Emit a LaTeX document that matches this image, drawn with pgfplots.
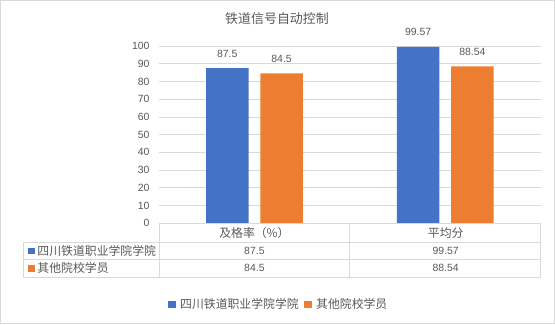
\documentclass[border=0pt]{standalone}
\usepackage{pgfplots}
\pgfplotsset{compat=1.18}
\usepackage{pgfplotstable}
\usepackage{fontspec}
\setmainfont{Liberation Sans}
\newfontfamily\cjk{Noto Sans CJK SC}
\definecolor{sblue}{HTML}{4472C4}
\definecolor{sorange}{HTML}{ED7D31}
\definecolor{txtgray}{HTML}{595959}
\definecolor{gridgray}{HTML}{D9D9D9}
\pgfplotstableread{
x A B
0 87.5 84.5
1 99.57 88.54
}\data
\begin{document}
\begin{tikzpicture}[x=1bp,y=1bp]
\useasboundingbox (0,0) rectangle (555,324);
\fill[white] (0,0) rectangle (555,324);
\draw[gridgray, line width=0.9bp] (0.7,0.7) rectangle (554,323.3);
% title
\node[text=txtgray, font=\cjk\fontsize{13}{15}\selectfont, inner sep=0] at (277,305.7) {铁道信号自动控制};
\begin{axis}[
  at={(159bp,100.7bp)}, anchor=south west,
  scale only axis, width=381.7bp, height=177.3bp,
  xmin=-0.5, xmax=1.5, ymin=0, ymax=100,
  ybar=11.8bp, bar width=42.5bp,
  axis line style={draw=none},
  xtick=\empty,
  ytick={0,10,...,100},
  ymajorgrids, grid style={draw=gridgray, line width=0.75bp},
  major tick length=0pt,
  /pgf/number format/assume math mode=true,
  yticklabel style={font=\fontsize{10.5}{12}\selectfont, text=txtgray, xshift=-6bp},
  nodes near coords,
  every node near coord/.append style={font=\fontsize{10.5}{12}\selectfont, text=txtgray, yshift=7.5bp},
  clip=false,
]
\addplot[fill=sblue, draw=none] table[x=x, y=A] {\data};
\addplot[fill=sorange, draw=none] table[x=x, y=B] {\data};
\end{axis}
% data table
\draw[gridgray, line width=0.75bp]
  (159,100.7) -- (540.7,100.7)
  (23.3,81.7) -- (540.7,81.7)
  (23.3,64.7) -- (540.7,64.7)
  (23.3,46.7) -- (540.7,46.7)
  (23.3,81.7) -- (23.3,46.7)
  (159,100.7) -- (159,46.7)
  (349.85,100.7) -- (349.85,46.7)
  (540.7,100.7) -- (540.7,46.7);
\node[text=txtgray, font=\cjk\fontsize{11.9}{14}\selectfont, inner sep=0] at (254.4,91.2) {及格率（\%）};
\node[text=txtgray, font=\cjk\fontsize{11.9}{14}\selectfont, inner sep=0] at (445.7,91.2) {平均分};
\node[text=txtgray, font=\fontsize{10.5}{12}\selectfont, inner sep=0] at (254.4,73.2) {87.5};
\node[text=txtgray, font=\fontsize{10.5}{12}\selectfont, inner sep=0] at (445.7,73.2) {99.57};
\node[text=txtgray, font=\fontsize{10.5}{12}\selectfont, inner sep=0] at (254.4,55.7) {84.5};
\node[text=txtgray, font=\fontsize{10.5}{12}\selectfont, inner sep=0] at (445.7,55.7) {88.54};
\fill[sblue] (27.7,69.7) rectangle (34.7,76.3);
\fill[sorange] (27.7,52.2) rectangle (34.7,58.8);
\node[text=txtgray, font=\cjk\fontsize{11.9}{14}\selectfont, inner sep=0, anchor=west] at (37.3,73.2) {四川铁道职业学院学院};
\node[text=txtgray, font=\cjk\fontsize{11.9}{14}\selectfont, inner sep=0, anchor=west] at (37.3,55.7) {其他院校学员};
% legend
\fill[sblue] (168,16.3) rectangle (175.5,23.3);
\node[text=txtgray, font=\cjk\fontsize{11.9}{14}\selectfont, inner sep=0, anchor=west] at (180,20) {四川铁道职业学院学院};
\fill[sorange] (304.4,16.3) rectangle (311.9,23.3);
\node[text=txtgray, font=\cjk\fontsize{11.9}{14}\selectfont, inner sep=0, anchor=west] at (316,20) {其他院校学员};
\end{tikzpicture}
\end{document}
